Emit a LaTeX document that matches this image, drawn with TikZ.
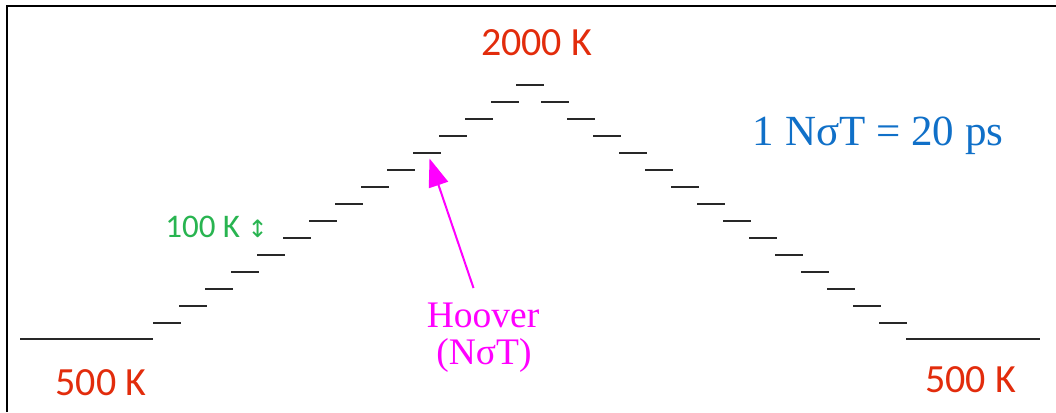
\documentclass[tikz,border=0pt]{standalone}
\usepackage{fontspec}
\setmainfont{Liberation Serif}
\newfontfamily\calib{Carlito}
\newfontfamily\dejavu{DejaVu Sans}
\usetikzlibrary{arrows.meta}
\definecolor{tred}{RGB}{226,44,12}
\definecolor{tblue}{RGB}{16,112,200}
\definecolor{tgreen}{RGB}{40,180,80}
\definecolor{tmag}{RGB}{255,0,255}
\definecolor{stepgray}{RGB}{40,40,40}
\begin{document}
\begin{tikzpicture}[x=1pt,y=-1pt,
  stair/.style={draw=stepgray,line width=2.2pt},
  frame/.style={draw=black,line width=1.6pt},
  redlbl/.style={text=tred,anchor=base,inner sep=0pt,font=\calib\fontsize{40}{48}\selectfont},
  bluelbl/.style={text=tblue,anchor=base,inner sep=0pt,font=\fontsize{43}{50}\selectfont},
  greenlbl/.style={text=tgreen,anchor=base,inner sep=0pt,font=\calib\fontsize{33}{40}\selectfont},
  maglbl/.style={text=tmag,anchor=base,inner sep=0pt,font=\fontsize{37.5}{44}\selectfont},
  hooverarrow/.style={draw=tmag,line width=2pt,-{Triangle[length=28pt,width=20pt]}}]
\useasboundingbox (0,0) rectangle (1056,412);
\draw[frame] (7,412) -- (7,6) -- (1056,6);
% baselines at 500 K
\draw[stair] (20,338.7) -- (153,338.7);
\draw[stair] (906,338.7) -- (1040,338.7);
% staircase
\foreach \k in {1,...,14}{
  \pgfmathsetmacro{\cx}{167+26*(\k-1)}
  \pgfmathsetmacro{\cy}{322.7-16.98*(\k-1)}
  \pgfmathsetmacro{\rx}{1060-\cx}
  \draw[stair] (\cx-14,\cy) -- (\cx+14,\cy);
  \draw[stair] (\rx-14,\cy) -- (\rx+14,\cy);
}
\draw[stair] (516,85) -- (544,85);
% labels
\node[redlbl] (top) at (536.5,56) {2000 K};
\node[redlbl] (left) at (101,395) {500 K};
\node[redlbl] (right) at (970.5,392) {500 K};
\node[bluelbl] (scale) at (878,145) {1 NσT = 20 ps};
\node[greenlbl] (dk) at (216.5,237) {100 K {\dejavu\fontsize{24}{28}\selectfont ↕}};
\node[maglbl] (hoover) at (483,327) {Hoover};
\node[maglbl] (nst) at (484,364) {(NσT)};
\coordinate (tail) at (473.5,288);
\coordinate (tip) at (429.5,158.5);
\draw[hooverarrow] (tail) -- (tip);
\end{tikzpicture}
\end{document}
